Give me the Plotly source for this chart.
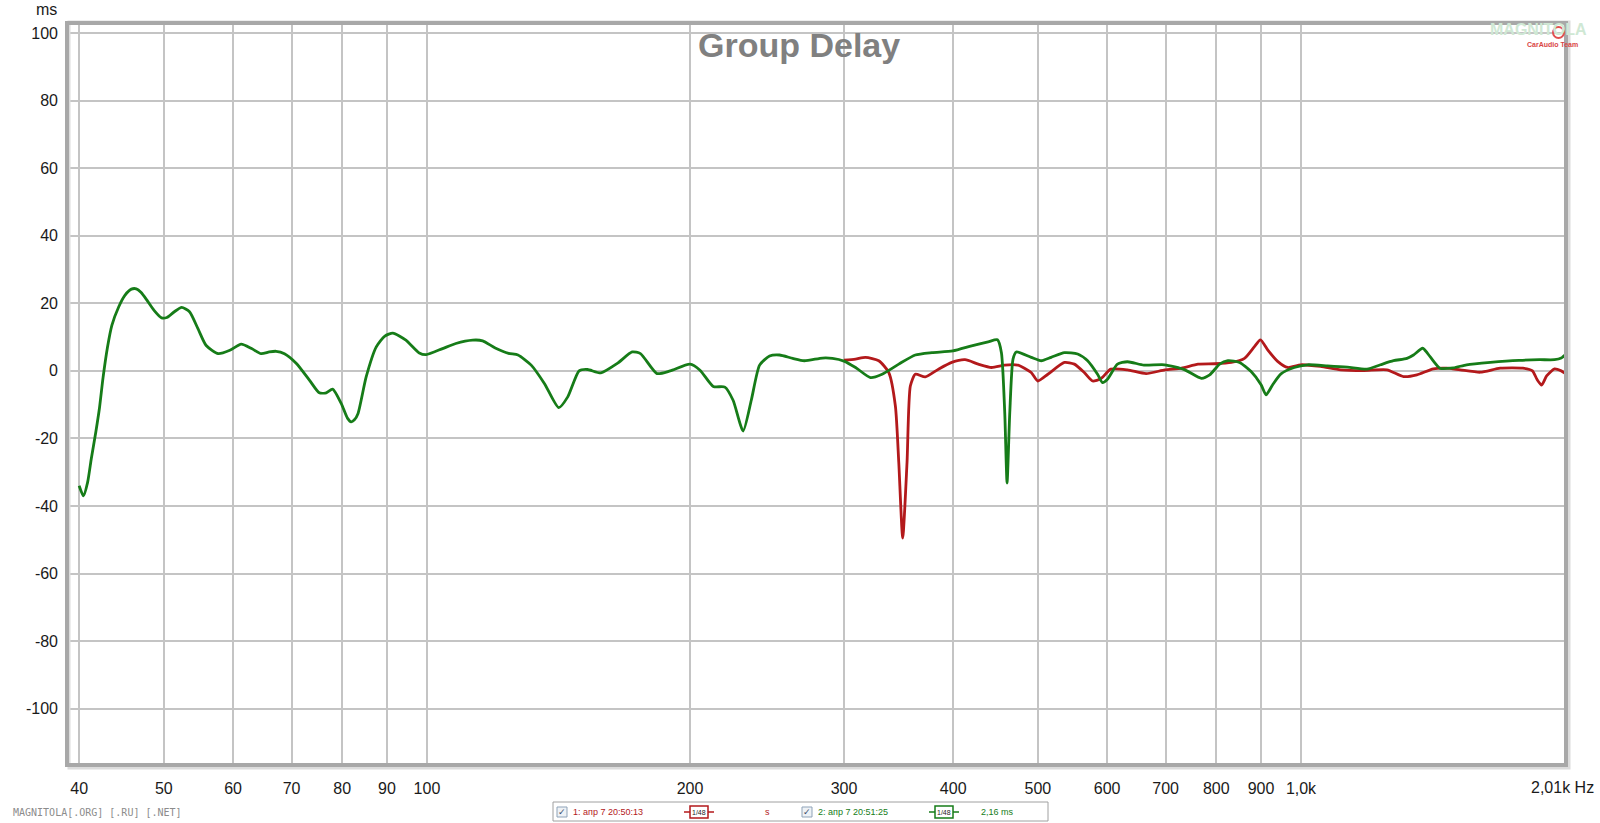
import plotly.graph_objects as go
import numpy as np

# ---------------- data ----------------
green_freq = [40.0, 40.45, 40.9, 41.3, 41.8, 42.2, 42.6, 43.1, 43.6, 44.4, 45.1, 45.9, 46.5, 47.1, 47.8,
              48.7, 49.7, 50.4, 51.4, 52.4, 53.5, 54.7, 55.9, 57.7, 59.5, 61.3, 63.0, 64.6, 66.0, 67.2,
              68.7, 70.9, 73.4, 75.3, 76.7, 78.0, 79.8, 81.1, 81.9, 82.6, 83.4, 85.2, 87.5, 89.5, 91.4,
              94.6, 98.0, 99.8, 104.2, 107.9, 112.8, 115.8, 119.7, 124.0, 127.1, 131.6, 136.3, 141.5,
              144.9, 149.3, 152.6, 158.1, 165.1, 171.7, 175.5, 183.3, 189.8, 200.0, 205.3, 212.6, 219.2,
              224.0, 230.0, 235.0, 240.2, 246.6, 253.1, 262.1, 270.2, 283.5, 291.0, 300.0, 309.3, 321.7,
              331.7, 346.6, 362.0, 378.2, 399.6, 419.9, 438.6, 449.5, 454.2, 458.2, 461.0, 464.3, 468.3,
              472.4, 491.3, 504.4, 517.8, 536.2, 555.2, 570.0, 585.1, 592.8, 600.6, 616.6, 633.0, 661.2,
              698.0, 736.4, 769.2, 786.2, 807.1, 824.9, 850.5, 876.9, 900.2, 912.0, 928.1, 948.6, 982.3,
              1017, 1072, 1130, 1190, 1233, 1276, 1322, 1345, 1378, 1405, 1442, 1494, 1547, 1647, 1776,
              1874, 1950, 1985, 2010]
green_ms = [-34.0, -37.0, -33.0, -26.0, -18.0, -11.0, -2.0, 7.0, 13.5, 19.0, 22.3, 24.2, 24.3, 23.2, 21.0,
            18.0, 15.7, 15.8, 17.5, 18.8, 17.5, 12.5, 7.5, 5.1, 6.1, 7.9, 6.6, 5.1, 5.6, 5.8,
            5.1, 2.2, -2.8, -6.5, -6.5, -5.4, -9.7, -14.0, -15.1, -14.5, -12.6, -1.8, 7.1, 10.3, 11.2,
            9.1, 5.3, 4.8, 6.6, 8.1, 9.1, 8.9, 6.8, 5.2, 4.7, 1.7, -3.8, -10.9,
            -7.7, 0.0, 0.4, -0.6, 2.2, 5.6, 5.1, -0.8, 0.0, 2.0, 0.2, -4.6, -4.8,
            -8.7, -17.8, -8.7, 1.7, 4.4, 4.7, 3.7, 3.0, 3.8, 3.7, 2.9, 1.0, -2.0,
            -1.0, 2.0, 4.7, 5.4, 5.9, 7.4, 8.6, 9.2, 5.4, -12.4, -33.2, -12.4, 3.5,
            5.6, 4.0, 3.0, 4.0, 5.4, 5.0, 3.0, -1.0, -3.5, -2.5, 2.0, 2.7, 1.7,
            1.8, 0.3, -2.2, -1.2, 2.0, 3.0, 2.5, -0.2, -4.1, -7.1, -4.1, -0.9, 1.0,
            1.8, 1.5, 1.1, 0.5, 1.8, 3.0, 3.7, 4.7, 6.7, 4.2, 0.8, 0.9, 1.8, 2.5, 3.1,
            3.3, 3.3, 3.8, 5.0]

red_freq = [300.0, 309.3, 317.5, 328.8, 337.6, 343.5, 346.6, 350.2, 354.2, 357.3, 362.0, 371.6, 384.8,
            398.5, 412.7, 427.3, 442.5, 458.2, 474.5, 491.3, 499.8, 513.3, 536.2, 550.4, 565.0, 577.5,
            590.3, 605.9, 633.0, 665.0, 698.8, 730.0, 762.5, 796.6, 832.2, 861.7, 884.6, 898.7, 916.0,
            940.3, 965.3, 999.6, 1053, 1110, 1180, 1254, 1310, 1357, 1417, 1468, 1521, 1604, 1690,
            1794, 1840, 1862, 1885, 1910, 1950, 1985, 2010]
red_ms = [3.2, 3.5, 4.0, 3.0, -0.5, -10.4, -27.2, -49.5, -27.2, -4.5, -1.0, -1.8, 0.5,
          2.5, 3.3, 2.0, 1.0, 1.7, 1.7, -0.5, -3.0, -1.0, 2.5, 2.0, -0.5, -3.0,
          -2.3, 0.5, 0.3, -0.8, 0.3, 0.8, 2.0, 2.1, 2.5, 3.7, 7.2, 9.2, 6.2,
          2.8, 1.0, 1.8, 1.3, 0.3, 0.1, 0.3, -1.7, -1.2, 0.6, 0.8, 0.3, -0.4, 0.8,
          0.8, 0.0, -2.5, -4.2, -1.5, 0.6, 0.0, -0.9]

x_tick_vals = [40, 50, 60, 70, 80, 90, 100, 200, 300, 400, 500, 600, 700, 800, 900, 1000]
x_tick_text = ["40", "50", "60", "70", "80", "90", "100", "200", "300", "400", "500", "600",
               "700", "800", "900", "1,0k"]
y_tick_vals = [100, 80, 60, 40, 20, 0, -20, -40, -60, -80, -100]
y_tick_text = ["100", "80", "60", "40", "20", "0", "-20", "-40", "-60", "-80", "-100"]

# ---------------- layout helpers ----------------
W, H = 1600, 823
L, R, T, B = 67, 1566, 23, 765


def px(x):
    return (x - L) / (R - L)


def py(y):
    return (B - y) / (B - T)


FONT = "Liberation Sans, Arial, sans-serif"
RED = "#b3191b"
GREEN = "#167c18"

fig = go.Figure()
fig.add_trace(go.Scatter(x=red_freq, y=red_ms, mode="lines",
                         line=dict(color=RED, width=2.8, shape="spline", smoothing=0.6),
                         name="1", hoverinfo="skip"))
fig.add_trace(go.Scatter(x=green_freq, y=green_ms, mode="lines",
                         line=dict(color=GREEN, width=2.8, shape="spline", smoothing=0.6),
                         name="2", hoverinfo="skip"))

fig.update_layout(
    width=W, height=H,
    margin=dict(l=L, r=W - R, t=T, b=H - B),
    paper_bgcolor="white", plot_bgcolor="white",
    showlegend=False,
    font=dict(family=FONT, size=16, color="#1a1a1a"),
)
fig.update_xaxes(type="log", range=[np.log10(38.74), np.log10(2010)],
                 tickvals=x_tick_vals, ticktext=x_tick_text,
                 showgrid=True, gridcolor="#c4c4c4", gridwidth=1.5,
                 showline=False, zeroline=False, ticks="", ticklabelstandoff=12,
                 tickfont=dict(family=FONT, size=16, color="#1a1a1a"))
fig.update_yaxes(range=[-116.7, 103.0], tickvals=y_tick_vals, ticktext=y_tick_text,
                 showgrid=True, gridcolor="#c4c4c4", gridwidth=1.5,
                 showline=False, zeroline=False, ticks="", ticklabelstandoff=8,
                 tickfont=dict(family=FONT, size=16, color="#1a1a1a"))

shapes = []
annotations = []

# plot frame
shapes.append(dict(type="rect", xref="paper", yref="paper", x0=px(L + 2), x1=px(R + 3), y0=py(B + 3), y1=py(T - 1),
                   line=dict(color="#dcdcdc", width=3), layer="above"))
shapes.append(dict(type="rect", xref="paper", yref="paper", x0=0, x1=1, y0=0, y1=1,
                   line=dict(color="#a8a8a8", width=4), layer="above"))

# title and axis labels
annotations.append(dict(text="<b>Group Delay</b>", xref="paper", yref="paper", x=px(799), y=py(45),
                        xanchor="center", yanchor="middle", showarrow=False,
                        font=dict(family=FONT, size=34, color="#808080")))
annotations.append(dict(text="ms", xref="paper", yref="paper", x=px(59), y=py(9),
                        xanchor="right", yanchor="middle", showarrow=False,
                        font=dict(family=FONT, size=16, color="#1a1a1a")))
annotations.append(dict(text="2,01k Hz", xref="paper", yref="paper", x=px(1596), y=py(787),
                        xanchor="right", yanchor="middle", showarrow=False,
                        font=dict(family=FONT, size=16, color="#1a1a1a")))

# watermark
annotations.append(dict(text="MAGNITOLA[.ORG] [.RU] [.NET]", xref="paper", yref="paper", x=px(11), y=py(812),
                        xanchor="left", yanchor="middle", showarrow=False,
                        font=dict(family="DejaVu Sans Mono, monospace", size=10, color="#8c8c8c")))

# logo
annotations.append(dict(text="<b>MAGNITOLA</b>", xref="paper", yref="paper", x=px(1538), y=py(29),
                        xanchor="center", yanchor="middle", showarrow=False,
                        font=dict(family="Liberation Sans Narrow, Liberation Sans, sans-serif", size=16,
                                  color="#cfe8d4")))
annotations.append(dict(text="<b>CarAudio Team</b>", xref="paper", yref="paper", x=px(1580), y=py(45),
                        xanchor="right", yanchor="middle", showarrow=False,
                        font=dict(family=FONT, size=7, color="#d94545")))
shapes.append(dict(type="circle", xref="paper", yref="paper", x0=px(1553), x1=px(1564), y0=py(38), y1=py(27),
                   line=dict(color="#e05050", width=2), layer="above"))

# legend box
LY = 812
shapes.append(dict(type="rect", xref="paper", yref="paper", x0=px(553), x1=px(1048), y0=py(821), y1=py(802),
                   line=dict(color="#a0a0a0", width=1), fillcolor="white"))
for cx in (562, 807):
    shapes.append(dict(type="rect", xref="paper", yref="paper", x0=px(cx - 5), x1=px(cx + 5),
                       y0=py(LY + 5), y1=py(LY - 5), line=dict(color="#8fa3b8", width=1), fillcolor="#eef2f6"))
    annotations.append(dict(text="✓", xref="paper", yref="paper", x=px(cx), y=py(LY),
                            xanchor="center", yanchor="middle", showarrow=False,
                            font=dict(family="DejaVu Sans", size=9, color="#3a4a6a")))

legend_texts = [("1: апр 7 20:50:13", 571, RED), ("s", 763, RED),
                ("2: апр 7 20:51:25", 816, GREEN), ("2,16 ms", 979, GREEN)]
for txt, x0, col in legend_texts:
    annotations.append(dict(text=txt, xref="paper", yref="paper", x=px(x0), y=py(LY),
                            xanchor="left", yanchor="middle", showarrow=False,
                            font=dict(family=FONT, size=9, color=col)))

for cx, col in ((699, RED), (944, GREEN)):
    shapes.append(dict(type="line", xref="paper", yref="paper", x0=px(cx - 15), x1=px(cx + 15),
                       y0=py(LY), y1=py(LY), line=dict(color=col, width=1.5)))
    shapes.append(dict(type="rect", xref="paper", yref="paper", x0=px(cx - 9), x1=px(cx + 9),
                       y0=py(LY + 6), y1=py(LY - 6), line=dict(color=col, width=1.5), fillcolor="white"))
    annotations.append(dict(text="1/48", xref="paper", yref="paper", x=px(cx), y=py(LY),
                            xanchor="center", yanchor="middle", showarrow=False,
                            font=dict(family=FONT, size=7, color="#222222")))

fig.update_layout(shapes=shapes, annotations=annotations)
fig.write_html("out.html", config={"displayModeBar": False},
               post_script="document.body.style.margin='0px';document.body.style.padding='0px';"
                           "document.body.style.overflow='hidden';")
